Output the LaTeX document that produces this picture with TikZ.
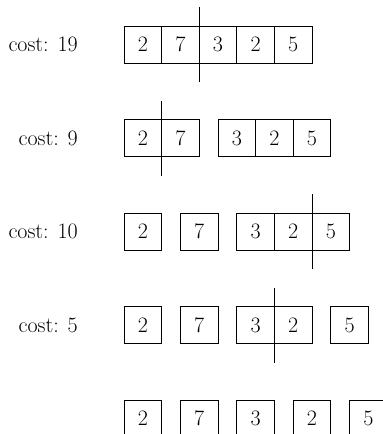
\documentclass[tikz,border=0pt]{standalone}
\usetikzlibrary{positioning}

\begin{document}
\begin{tikzpicture}[
    x=1pt, y=1pt,
    cell/.style={rectangle, draw, line width=0.9pt, minimum width=37.6pt, minimum height=37pt, inner sep=0pt, outer sep=0pt, font=\fontsize{22}{22}\selectfont},
    costlabel/.style={inner sep=0pt, font=\fontsize{22}{22}\selectfont},
    cutmark/.style={line width=0.9pt}
]
    \useasboundingbox (0,0) rectangle (383,-434);
    \clip (0,0) rectangle (383,-434);
    \node[cell] (r1a) at (142.8,-44.5) {2};
    \node[cell, right=0pt of r1a] (r1b) {7};
    \node[cell, right=0pt of r1b] (r1c) {3};
    \node[cell, right=0pt of r1c] (r1d) {2};
    \node[cell, right=0pt of r1d] (r1e) {5};
    \node[costlabel, left=46pt of r1a] (c1) {cost: 19};
    \draw[cutmark] ([yshift=19pt]r1b.north east) -- ([yshift=-19pt]r1b.south east);

    \node[cell, below=56.5pt of r1a] (r2a) {2};
    \node[cell, right=0pt of r2a] (r2b) {7};
    \node[cell, right=18.8pt of r2b] (r2c) {3};
    \node[cell, right=0pt of r2c] (r2d) {2};
    \node[cell, right=0pt of r2d] (r2e) {5};
    \node[costlabel, left=46pt of r2a] (c2) {cost: 9};
    \draw[cutmark] ([yshift=19pt]r2a.north east) -- ([yshift=-19pt]r2a.south east);

    \node[cell, below=56.5pt of r2a] (r3a) {2};
    \node[cell, right=18.8pt of r3a] (r3b) {7};
    \node[cell, right=18.8pt of r3b] (r3c) {3};
    \node[cell, right=0pt of r3c] (r3d) {2};
    \node[cell, right=0pt of r3d] (r3e) {5};
    \node[costlabel, left=46pt of r3a] (c3) {cost: 10};
    \draw[cutmark] ([yshift=19pt]r3d.north east) -- ([yshift=-19pt]r3d.south east);

    \node[cell, below=56.5pt of r3a] (r4a) {2};
    \node[cell, right=18.8pt of r4a] (r4b) {7};
    \node[cell, right=18.8pt of r4b] (r4c) {3};
    \node[cell, right=0pt of r4c] (r4d) {2};
    \node[cell, right=18.8pt of r4d] (r4e) {5};
    \node[costlabel, left=46pt of r4a] (c4) {cost: 5};
    \draw[cutmark] ([yshift=19pt]r4c.north east) -- ([yshift=-19pt]r4c.south east);

    \node[cell, below=56.5pt of r4a] (r5a) {2};
    \node[cell, right=18.8pt of r5a] (r5b) {7};
    \node[cell, right=18.8pt of r5b] (r5c) {3};
    \node[cell, right=18.8pt of r5c] (r5d) {2};
    \node[cell, right=18.8pt of r5d] (r5e) {5};
\end{tikzpicture}
\end{document}
